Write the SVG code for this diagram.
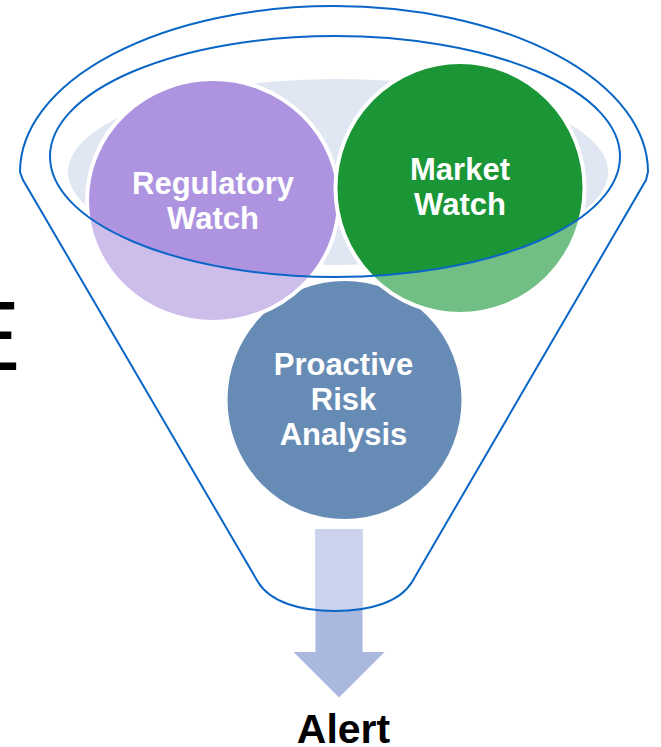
<svg xmlns="http://www.w3.org/2000/svg" width="661" height="747" viewBox="0 0 661 747">
  <style>
    .lbl { font-family: "Liberation Sans", Arial, sans-serif; font-weight: bold; font-size: 31px; fill: #ffffff; text-anchor: middle; }
    .outline { fill: none; stroke: #0A66C6; stroke-width: 2; }
    .ring { stroke: #ffffff; stroke-width: 4; }
  </style>
  <defs>
    <clipPath id="innerClip">
      <ellipse cx="335" cy="156.5" rx="285" ry="120.5"/>
    </clipPath>
    <clipPath id="funnelClip">
      <path d="M 20,172 A 314 166 0 0 1 648,172 L 646,180 L 412,582 C 400,602 370,611 335,611 C 300,611 270,602 258,582 L 23,180 Z"/>
    </clipPath>
  </defs>

  <rect width="661" height="747" fill="#ffffff"/>

  <text x="-45" y="370" font-family="'Liberation Sans', Arial, sans-serif" font-size="98" fill="#000000">E</text>

  <g id="funnel-back">
    <ellipse cx="338" cy="172" rx="270" ry="93" fill="#E1E6F3"/>
  </g>

  <g id="node-proactive">
    <ellipse cx="344.5" cy="400" rx="119" ry="121" fill="#668CB5" class="ring"/>
  </g>

  <g id="node-regulatory">
    <ellipse cx="213" cy="200.5" rx="126" ry="121.5" fill="#CDBDEB"/>
    <ellipse cx="213" cy="200.5" rx="126" ry="121.5" fill="#AD93E0" clip-path="url(#innerClip)"/>
    <ellipse cx="213" cy="200.5" rx="126" ry="121.5" fill="none" class="ring"/>
  </g>

  <g id="node-market">
    <ellipse cx="460" cy="188" rx="124.5" ry="126" fill="#72BF85"/>
    <ellipse cx="460" cy="188" rx="124.5" ry="126" fill="#1A9636" clip-path="url(#innerClip)"/>
    <ellipse cx="460" cy="188" rx="124.5" ry="126" fill="none" class="ring"/>
  </g>

  <g id="connectors">
    <path id="arrow" d="M 315.5,529 L 362.5,529 L 362.5,652 L 384.5,652 L 339,697.5 L 293.5,652 L 315.5,652 Z" fill="#AAB8E0"/>
    <path d="M 315.5,529 L 362.5,529 L 362.5,652 L 384.5,652 L 339,697.5 L 293.5,652 L 315.5,652 Z" fill="#CBD3EC" clip-path="url(#funnelClip)"/>
  </g>

  <g id="funnel">
    <path class="outline" d="M 20,172 A 314 166 0 0 1 648,172 L 646,180 L 412,582 C 400,602 370,611 335,611 C 300,611 270,602 258,582 L 23,180 Z"/>
    <ellipse class="outline" cx="335" cy="156.5" rx="285" ry="120.5"/>
  </g>

  <g id="labels">
    <text class="lbl" x="213" y="193.5">Regulatory</text>
    <text class="lbl" x="213" y="228.5">Watch</text>
    <text class="lbl" x="460" y="180">Market</text>
    <text class="lbl" x="460" y="215">Watch</text>
    <text class="lbl" x="343.5" y="375">Proactive</text>
    <text class="lbl" x="343.5" y="410">Risk</text>
    <text class="lbl" x="343.5" y="444.5">Analysis</text>
  </g>

  <g id="node-alert">
    <text x="343.5" y="743" font-family="'Liberation Sans', Arial, sans-serif" font-weight="bold" font-size="41" fill="#000000" text-anchor="middle">Alert</text>
  </g>
</svg>
